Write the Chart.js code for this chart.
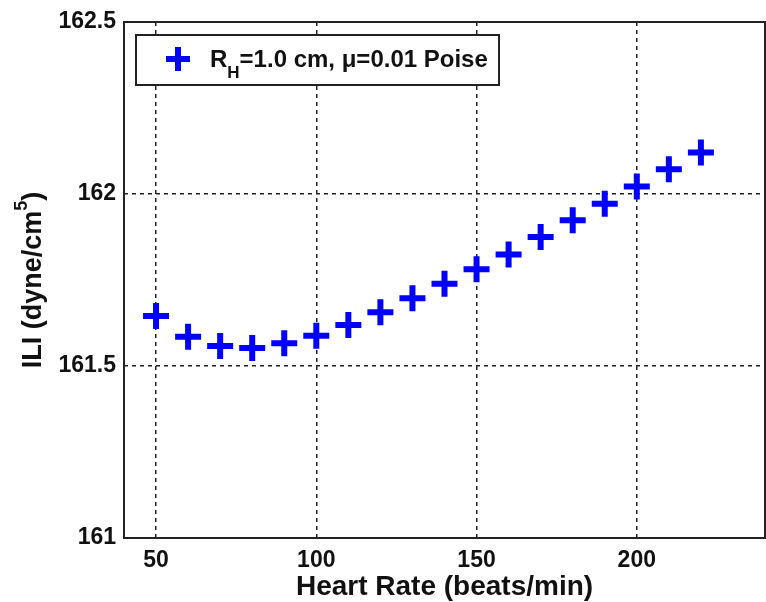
<!DOCTYPE html>
<html>
<head>
<meta charset="utf-8">
<script src="https://cdn.jsdelivr.net/npm/chart.js@4"></script>
<style>
  html, body { margin: 0; padding: 0; background: #fff; }
  #wrap { width: 766px; height: 602px; }
</style>
</head>
<body>
<div id="wrap"><canvas id="iliChart" width="766" height="602"></canvas></div>
<script>
// Heart rate (beats/min) vs ILI (dyne/cm^5)
const heartRates = [50, 60, 70, 80, 90, 100, 110, 120, 130, 140, 150, 160, 170, 180, 190, 200, 210, 220];
const iliValues = [161.645, 161.585, 161.558, 161.552, 161.566, 161.588, 161.619, 161.656, 161.697, 161.739, 161.781, 161.824, 161.875, 161.924, 161.972, 162.022, 162.072, 162.121];
const xTicks = [50, 100, 150, 200];
const yTicks = [161, 161.5, 162, 162.5];
const seriesName = { base: 'R', sub: 'H', rest: '=1.0 cm, \u03bc=0.01 Poise' };

const FONT = "'Liberation Sans', Arial, sans-serif";

// Box around the plot area (MATLAB style)
const framePlugin = {
  id: 'frame',
  afterDraw(chart) {
    const { ctx, chartArea: a } = chart;
    ctx.save();
    ctx.strokeStyle = '#222';
    ctx.lineWidth = 2;
    ctx.setLineDash([]);
    ctx.strokeRect(a.left, a.top, a.right - a.left, a.bottom - a.top);
    ctx.restore();
  }
};

// Y title with superscript, legend with subscript
const textPlugin = {
  id: 'texts',
  afterDraw(chart) {
    const { ctx, chartArea: a } = chart;
    ctx.save();
    // y axis title
    const cy = (a.top + a.bottom) / 2;
    ctx.translate(41, cy);
    ctx.rotate(-Math.PI / 2);
    ctx.fillStyle = '#111';
    ctx.textBaseline = 'alphabetic';
    const main = 'ILI (dyne/cm';
    const sup = '5';
    const close = ')';
    ctx.font = 'bold 27px ' + FONT;
    const wMain = ctx.measureText(main).width;
    const wClose = ctx.measureText(close).width;
    ctx.font = 'bold 18px ' + FONT;
    const wSup = ctx.measureText(sup).width;
    let x = -(wMain + wSup + wClose) / 2;
    ctx.font = 'bold 27px ' + FONT;
    ctx.fillText(main, x, 0);
    x += wMain;
    ctx.font = 'bold 18px ' + FONT;
    ctx.fillText(sup, x, -14);
    x += wSup;
    ctx.font = 'bold 27px ' + FONT;
    ctx.fillText(close, x, 0);
    ctx.restore();

    // legend
    ctx.save();
    ctx.fillStyle = '#fff';
    ctx.fillRect(136, 35, 363, 50);
    ctx.strokeStyle = '#222';
    ctx.lineWidth = 2;
    ctx.strokeRect(136, 35, 363, 50);
    ctx.strokeStyle = '#0000ff';
    ctx.lineWidth = 6;
    ctx.beginPath();
    ctx.moveTo(166, 59); ctx.lineTo(190, 59);
    ctx.moveTo(178, 47); ctx.lineTo(178, 71);
    ctx.stroke();
    ctx.fillStyle = '#111';
    ctx.textBaseline = 'alphabetic';
    let lx = 210;
    ctx.font = 'bold 24px ' + FONT;
    ctx.fillText(seriesName.base, lx, 67);
    lx += ctx.measureText(seriesName.base).width;
    ctx.font = 'bold 17px ' + FONT;
    ctx.fillText(seriesName.sub, lx, 78);
    lx += ctx.measureText(seriesName.sub).width;
    ctx.font = 'bold 24px ' + FONT;
    ctx.fillText(seriesName.rest, lx, 67);
    ctx.restore();
  }
};

const ctx = document.getElementById('iliChart').getContext('2d');

const iliChart = new Chart(ctx, {
  type: 'scatter',
  data: {
    datasets: [{
      label: 'ILI',
      data: heartRates.map((hr, i) => ({ x: hr, y: iliValues[i] })),
      pointStyle: 'cross',
      pointRadius: 13,
      pointHoverRadius: 13,
      borderWidth: 6,
      borderColor: '#0000ff',
      backgroundColor: '#0000ff',
      showLine: false
    }]
  },
  options: {
    responsive: false,
    animation: false,
    layout: { autoPadding: false, padding: { top: 22, right: 1, left: 0, bottom: 0 } },
    plugins: {
      legend: { display: false },
      tooltip: { enabled: false }
    },
    scales: {
      x: {
        type: 'linear',
        min: 40,
        max: 240,
        afterBuildTicks: axis => { axis.ticks = xTicks.map(v => ({ value: v })); },
        afterFit: axis => { axis.height = 64; axis.paddingLeft = 0; axis.paddingRight = 0; },
        grid: { color: '#222', lineWidth: 1.5, drawTicks: false },
        border: { display: false, dash: [4, 4] },
        ticks: {
          color: '#111',
          padding: 9,
          font: { family: FONT, size: 23, weight: 'bold' }
        },
        title: {
          display: true,
          text: 'Heart Rate (beats/min)',
          color: '#111',
          padding: { top: 0, bottom: -2 },
          font: { family: FONT, size: 28, weight: 'bold' }
        }
      },
      y: {
        min: 161,
        max: 162.5,
        afterBuildTicks: axis => { axis.ticks = yTicks.map(v => ({ value: v })); },
        afterFit: axis => { axis.width = 124; axis.paddingTop = 0; axis.paddingBottom = 0; },
        grid: { color: '#222', lineWidth: 1.5, drawTicks: false },
        border: { display: false, dash: [4, 4] },
        ticks: {
          color: '#111',
          padding: 8,
          font: { family: FONT, size: 23, weight: 'bold' },
          callback: v => String(v)
        }
      }
    }
  },
  plugins: [framePlugin, textPlugin]
});
</script>
</body>
</html>
